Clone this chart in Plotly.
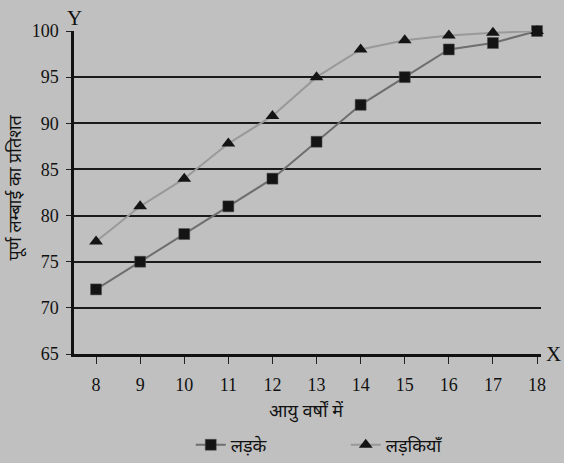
import plotly.graph_objects as go

ages = [8, 9, 10, 11, 12, 13, 14, 15, 16, 17, 18]
boys = [72, 75, 78, 81, 84, 88, 92, 95, 98, 98.7, 100]
girls = [77.2, 81, 84, 87.8, 90.8, 95, 98, 99, 99.5, 99.8, 100]
y_ticks = [65, 70, 75, 80, 85, 90, 95, 100]

SERIF = "Liberation Serif, Times New Roman, serif"
DEVA = "Noto Sans, Lohit Devanagari, sans-serif"

fig = go.Figure()

fig.add_trace(go.Scatter(
    x=ages, y=boys, name="लड़के", mode="lines+markers",
    line=dict(color="#6e6e6e", width=2),
    marker=dict(symbol="square", size=11, color="#141414",
                line=dict(color="#555", width=0.5)),
    cliponaxis=False,
))
fig.add_trace(go.Scatter(
    x=ages, y=girls, name="लड़कियाँ", mode="lines+markers",
    line=dict(color="#999999", width=2),
    marker=dict(symbol="triangle-up", size=12, color="#141414"),
    cliponaxis=False,
))

# axis letters
fig.add_annotation(x=0, y=1, xref="paper", yref="paper", text="Y",
                   showarrow=False, xanchor="center", yanchor="bottom",
                   font=dict(family=SERIF, size=21, color="#111"), yshift=-1)
fig.add_annotation(x=1, y=0, xref="paper", yref="paper", text="X",
                   showarrow=False, xanchor="left", yanchor="middle",
                   font=dict(family=SERIF, size=21, color="#111"), xshift=3)

# axis titles
fig.add_annotation(x=0.497, y=0, xref="paper", yref="paper", text="आयु वर्षों में",
                   showarrow=False, xanchor="center", yanchor="middle",
                   font=dict(family=DEVA, size=18, color="#111"), yshift=-56)
fig.add_annotation(x=0, y=0.5, xref="paper", yref="paper",
                   text="पूर्ण लम्बाई का प्रतिशत", textangle=-90,
                   showarrow=False, xanchor="center", yanchor="middle",
                   font=dict(family=DEVA, size=18, color="#111"), xshift=-60,
                   yshift=5)

fig.update_layout(
    width=564, height=463,
    paper_bgcolor="#c0c0c0", plot_bgcolor="#c0c0c0",
    margin=dict(l=74, r=23, t=31, b=109, autoexpand=False),
    font=dict(family=SERIF, size=18, color="#111"),
    xaxis=dict(
        range=[7.5, 18.09], tickvals=ages, ticks="outside", ticklen=7,
        tickcolor="#222", showgrid=False, zeroline=False,
        showline=True, linecolor="#111", linewidth=2.5,
        ticklabelstandoff=6,
    ),
    yaxis=dict(
        range=[65, 100], tickvals=y_ticks, ticks="outside", ticklen=5,
        tickcolor="#222", showgrid=True, gridcolor="#1a1a1a", gridwidth=1.5,
        zeroline=False, showline=True, linecolor="#111", linewidth=2.5,
        ticklabelstandoff=4,
    ),
    legend=dict(orientation="h", x=0.25, xanchor="left", y=-0.282,
                yanchor="middle", font=dict(family=DEVA, size=18),
                bgcolor="rgba(0,0,0,0)", itemwidth=30,
                entrywidthmode="pixels", entrywidth=110),
    showlegend=True,
)

fig.write_html("out.html", config={"displayModeBar": False},
               post_script="document.body.style.margin='0';"
                           "document.body.style.background='#c0c0c0';")
